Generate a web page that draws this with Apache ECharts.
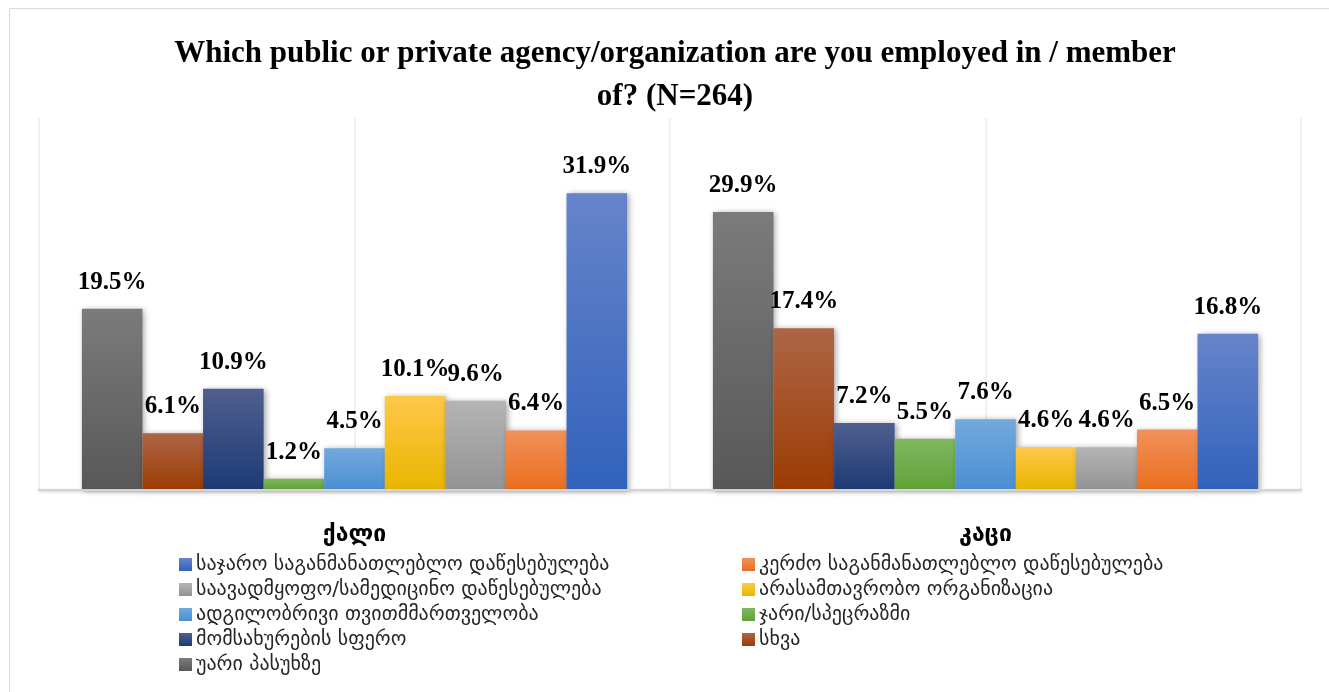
<!DOCTYPE html>
<html>
<head>
<meta charset="utf-8">
<script src="https://cdn.jsdelivr.net/npm/echarts@6/dist/echarts.min.js"></script>
<style>
    html, body { margin: 0; padding: 0; background: #fff; }
    #chart { width: 1329px; height: 692px; }
</style>
</head>
<body>
<div id="chart"></div>
<script>
// categories
const CATEGORIES = ["ქალი", "კაცი"]

// series names, in bar order (left to right inside each group)
const SERIES_NAMES = [
    "უარი პასუხზე",
    "სხვა",
    "მომსახურების სფერო",
    "ჯარი/სპეცრაზმი",
    "ადგილობრივი თვითმმართველობა",
    "არასამთავრობო ორგანიზაცია",
    "საავადმყოფო/სამედიცინო დაწესებულება",
    "კერძო საგანმანათლებლო დაწესებულება",
    "საჯარო საგანმანათლებლო დაწესებულება",
]

// values (%) per series: [ქალი, კაცი]
const REFUSED = [19.5, 29.9]
const OTHER = [6.1, 17.4]
const SERVICE = [10.9, 7.2]
const ARMY = [1.2, 5.5]
const LOCAL_GOV = [4.5, 7.6]
const NGO = [10.1, 4.6]
const MEDICAL = [9.6, 4.6]
const PRIVATE_EDU = [6.4, 6.5]
const PUBLIC_EDU = [31.9, 16.8]

const VALUES = [REFUSED, OTHER, SERVICE, ARMY, LOCAL_GOV, NGO, MEDICAL, PRIVATE_EDU, PUBLIC_EDU]

// gradient colours [top, bottom]
const COLORS = [
    ["#7b7b7b", "#585858"],
    ["#ae6546", "#9b3c02"],
    ["#4f5f8e", "#1d3a75"],
    ["#80b762", "#60a238"],
    ["#72a9dd", "#4a8fd3"],
    ["#ffc84a", "#e9b500"],
    ["#b4b4b4", "#939393"],
    ["#f2915b", "#e86f1d"],
    ["#6684ca", "#3162bb"],
]

const LEGEND_LEFT = [SERIES_NAMES[8], SERIES_NAMES[6], SERIES_NAMES[4], SERIES_NAMES[2], SERIES_NAMES[0]]
const LEGEND_RIGHT = [SERIES_NAMES[7], SERIES_NAMES[5], SERIES_NAMES[3], SERIES_NAMES[1]]

const myChart = echarts.init(document.getElementById("chart"), null, { renderer: "canvas" })

const series = SERIES_NAMES.map((name, i) => ({
    name: name,
    type: "bar",
    xAxisIndex: 0,
    yAxisIndex: 0,
    barGap: "0%",
    barCategoryGap: "13.6%",
    data: VALUES[i],
    itemStyle: {
        color: new echarts.graphic.LinearGradient(0, 0, 0, 1, [
            { offset: 0, color: COLORS[i][0] },
            { offset: 1, color: COLORS[i][1] },
        ]),
        shadowBlur: 6,
        shadowColor: "rgba(0,0,0,0.35)",
        shadowOffsetX: 2,
        shadowOffsetY: 1,
    },
    label: {
        show: true,
        position: "top",
        distance: 14,
        formatter: e => e.value.toFixed(1) + "%",
        fontFamily: "Liberation Serif",
        fontWeight: "bold",
        fontSize: 25,
        color: "#000",
    },
}))

// 两列图例
const legendCommon = {
    orient: "vertical",
    top: 554,
    height: 200,
    padding: 0,
    itemWidth: 13,
    itemHeight: 13,
    itemGap: 4,
    icon: "rect",
    textStyle: {
        fontFamily: "DejaVu Sans",
        fontSize: 20,
        lineHeight: 21,
        color: "#262626",
        padding: [0, 0, 0, -1],
    },
    selectedMode: false,
}

myChart.setOption({
    backgroundColor: "#fff",
    animation: false,
    title: {
        text: "Which public or private agency/organization are you employed in / member\nof? (N=264)",
        left: 670,
        textAlign: "center",
        top: 27,
        textStyle: {
            fontFamily: "Liberation Serif",
            fontWeight: "bold",
            fontSize: 31,
            lineHeight: 43,
            color: "#000",
        },
    },
    graphic: [
        {
            type: "rect",
            shape: { x: 9.5, y: 8.5, width: 1340, height: 700 },
            style: { fill: "none", stroke: "#d9d9d9", lineWidth: 1 },
            silent: true,
            z: -10,
        },
    ],
    legend: [
        Object.assign({}, legendCommon, { left: 179, data: LEGEND_LEFT }),
        Object.assign({}, legendCommon, { left: 742, data: LEGEND_RIGHT }),
    ],
    grid: {
        left: 39,
        right: 28,
        top: 118,
        bottom: 202,
        containLabel: false,
    },
    xAxis: [
        {
            type: "category",
            data: CATEGORIES,
            axisTick: { show: false },
            axisLine: {
                show: true,
                lineStyle: { color: "#d4d4d4", width: 2, shadowBlur: 3, shadowColor: "rgba(0,0,0,0.2)", shadowOffsetY: 1 },
            },
            axisLabel: {
                margin: 34,
                fontFamily: "DejaVu Sans",
                fontWeight: "bold",
                fontSize: 23,
                color: "#000",
            },
            splitLine: { show: false },
            z: 3,
        },
        {
            type: "value",
            min: 0,
            max: 4,
            interval: 1,
            show: true,
            axisLine: { show: false },
            axisTick: { show: false },
            axisLabel: { show: false },
            splitLine: { show: true, lineStyle: { color: "#ebebeb", width: 1.5 } },
        },
    ],
    yAxis: {
        type: "value",
        min: 0,
        max: 40,
        axisLine: { show: false },
        axisTick: { show: false },
        axisLabel: { show: false },
        splitLine: { show: false },
    },
    series: series,
})

window.addEventListener("resize", function () {
    myChart.resize()
})
</script>
</body>
</html>
